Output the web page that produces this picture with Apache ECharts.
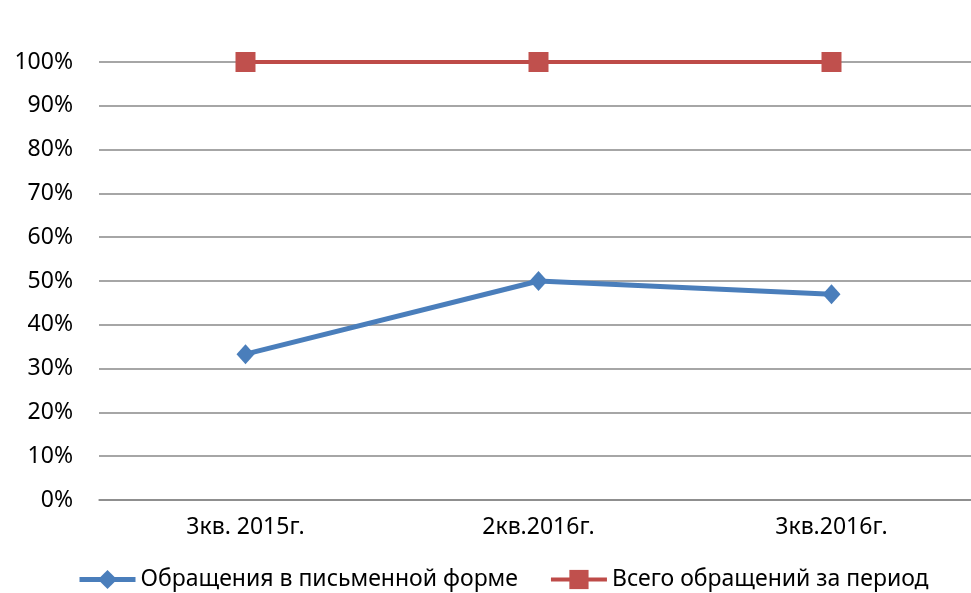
<!DOCTYPE html>
<html>
<head>
<meta charset="utf-8">
<title>echarts</title>
<script src="https://cdn.jsdelivr.net/npm/echarts@6/dist/echarts.min.js"></script>
<style>
  html, body { margin: 0; padding: 0; width: 100%; height: 100%; background: #fff; }
  #main { width: 971px; height: 593px; }
</style>
</head>
<body>
<div id="main"></div>
<script>
  var categories = ['3кв. 2015г.', '2кв.2016г.', '3кв.2016г.'];
  var written = [33.3, 50, 47];
  var total = [100, 100, 100];
  var seriesNames = ['Обращения в письменной форме', 'Всего обращений за период'];

  var font = 'Noto Sans';
  var chart = echarts.init(document.getElementById('main'));
  chart.setOption({
    animation: false,
    textStyle: { fontFamily: font },
    grid: { left: 99, top: 62, width: 879, height: 438, outerBoundsMode: 'none' },
    legend: {
      bottom: -3,
      left: 72,
      itemWidth: 56,
      itemHeight: 24,
      itemGap: 31,
      textStyle: { fontSize: 23, color: '#000', fontFamily: font },
      data: [
        { name: seriesNames[0], lineStyle: { width: 5 } },
        { name: seriesNames[1], lineStyle: { width: 4 } }
      ]
    },
    xAxis: {
      type: 'category',
      data: categories,
      axisLine: { lineStyle: { color: '#888', width: 1.5 } },
      axisTick: { show: false },
      axisLabel: { fontSize: 23, color: '#000', margin: 16 }
    },
    yAxis: {
      type: 'value',
      min: 0,
      max: 100,
      interval: 10,
      axisLine: { show: false },
      axisTick: { show: false },
      axisLabel: { fontSize: 23, color: '#000', margin: 26, formatter: '{value}%' },
      splitLine: { lineStyle: { color: '#888', width: 1.5 } }
    },
    series: [
      {
        name: seriesNames[0],
        type: 'line',
        data: written,
        symbol: 'diamond',
        symbolSize: [18, 20],
        lineStyle: { width: 5, color: '#4a7ebb' },
        itemStyle: { color: '#4a7ebb' }
      },
      {
        name: seriesNames[1],
        type: 'line',
        data: total,
        symbol: 'rect',
        symbolSize: 20,
        lineStyle: { width: 4, color: '#be4b48' },
        itemStyle: { color: '#c0504d' }
      }
    ]
  });
</script>
</body>
</html>
